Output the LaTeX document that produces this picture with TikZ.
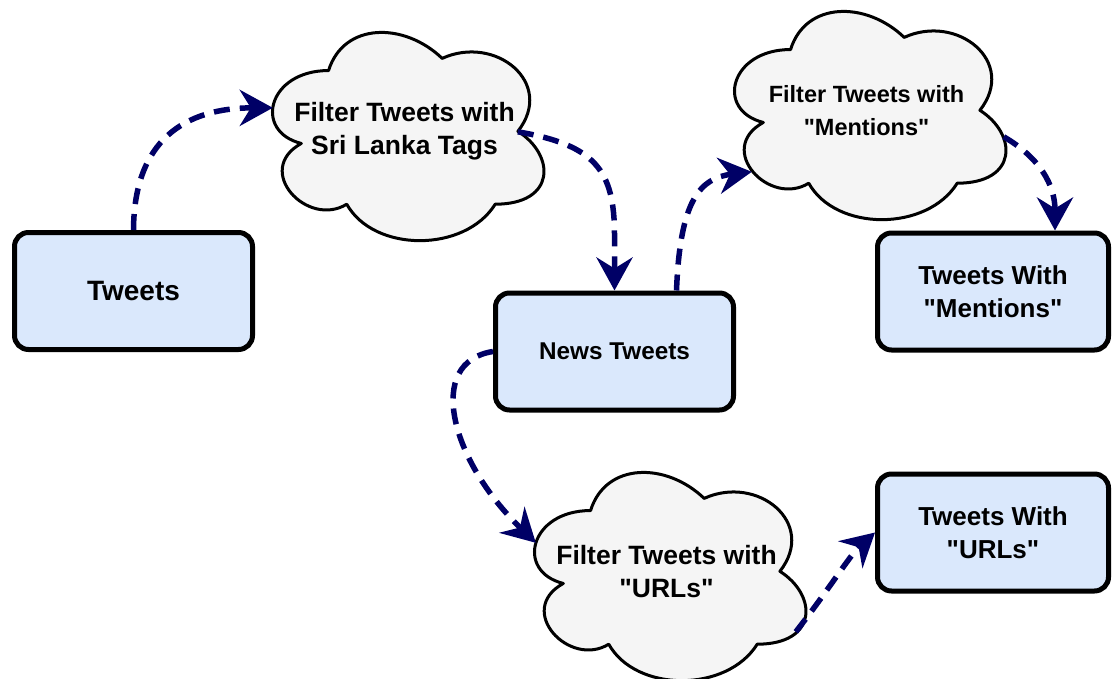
\documentclass[tikz,border=0pt]{standalone}
\usepackage{fontspec}
\setmainfont{Liberation Sans}
\usetikzlibrary{arrows.meta,calc}
\pgfdeclarelayer{bg}
\pgfsetlayers{bg,main}
\definecolor{boxfill}{HTML}{DAE8FC}
\definecolor{cloudfill}{HTML}{F5F5F5}
\definecolor{navyline}{HTML}{000066}
\newcommand\qd{\textquotedbl}
\tikzset{
  box/.style={draw=black, line width=5pt, fill=boxfill, rounded corners=14pt,
    minimum width=238pt, minimum height=117pt, inner sep=0pt, align=center,
    font=\bfseries\fontsize{26}{33}\selectfont},
  cloudtext/.style={minimum width=303pt, minimum height=243pt, inner sep=0pt,
    align=center, font=\bfseries\fontsize{26.5}{33}\selectfont},
  flow/.style={draw=navyline, line width=5.5pt, dash pattern=on 16pt off 10pt,
    -{Stealth[length=33pt,width=36pt,inset=11pt]}},
}
\newcommand\drawmxcloud[1]{%
  \begin{pgfonlayer}{bg}
  \begin{scope}[shift={(#1.north west)}, x=303pt, y=-243pt]
    \filldraw[fill=cloudfill, draw=black, line width=3pt, line join=round]
      (0.25,0.25) .. controls (0.05,0.25) and (0,0.5) .. (0.16,0.55)
      .. controls (0,0.66) and (0.18,0.9) .. (0.31,0.8)
      .. controls (0.4,1) and (0.7,1) .. (0.8,0.8)
      .. controls (1,0.8) and (1,0.6) .. (0.875,0.5)
      .. controls (1,0.3) and (0.8,0.1) .. (0.625,0.2)
      .. controls (0.5,0.05) and (0.3,0.05) .. (0.25,0.25) -- cycle;
  \end{scope}
  \end{pgfonlayer}}
\begin{document}
\begin{tikzpicture}[x=1pt,y=-1pt]
\useasboundingbox (0,0) rectangle (1113,679);
% boxes
\node[box, font=\bfseries\fontsize{28}{33}\selectfont] (tw) at (133.5,291) {Tweets};
\node[box, font=\bfseries\fontsize{24.3}{33}\selectfont] (news) at (614.5,351.5) {News Tweets};
\node[box, minimum width=231pt] (men) at (993,291.5) {Tweets With\\\qd Mentions\qd};
\node[box, minimum width=231pt] (url) at (993,532.5) {Tweets With\\\qd URLs\qd};
% clouds
\node[cloudtext] (c1) at (404.5,131.5) {Filter Tweets with\\Sri Lanka Tags};
\node[cloudtext, font=\bfseries\fontsize{23.5}{33}\selectfont] (c2) at (866.5,110.5) {Filter Tweets with\\\qd Mentions\qd};
\node[cloudtext] (c3) at (666.5,571.5) {Filter Tweets with\\\qd URLs\qd};
\drawmxcloud{c1}
\drawmxcloud{c2}
\drawmxcloud{c3}
% connectors
\draw[flow] (tw.north) .. controls (134,140) and (185,108) .. ($(c1.north west)+(20,98)$);
\draw[flow] ($(c1.north west)+(265,122)$) .. controls (595,145) and (614.5,170) .. (614.5,235) -- (news.north);
\draw[flow] ($(news.north)+(62,0)$) .. controls (680,200) and (700,178) .. ($(c2.north west)+(37,183)$);
\draw[flow] ($(c2.north west)+(289,148)$) .. controls (1040,158) and (1055,185) .. ($(men.north)+(62,0)$);
\draw[flow] (news.west) .. controls (425,362) and (450,460) .. ($(c3.north west)+(21,93)$);
\draw[flow] ($(c3.north west)+(281,182)$) .. controls (830,588) and (850,555) .. (url.west);
\end{tikzpicture}
\end{document}
